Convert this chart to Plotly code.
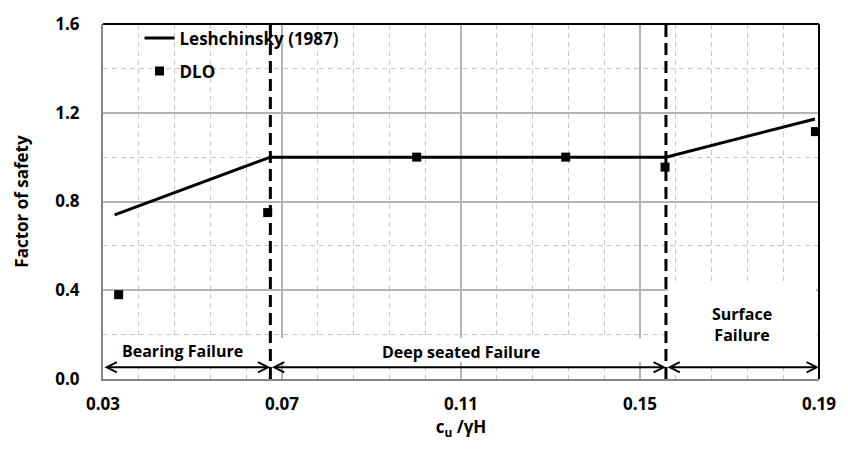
import plotly.graph_objects as go

# ---- data ----
les_x = [0.0326, 0.0674, 0.1558, 0.1891]
les_y = [0.74, 1.0, 1.0, 1.172]
dlo_x = [0.0335, 0.0668, 0.1001, 0.1334, 0.1556, 0.1892]
dlo_y = [0.38, 0.75, 1.0, 1.0, 0.955, 1.115]
boundaries = [0.0674, 0.1558]
x_ticks = [0.03, 0.07, 0.11, 0.15, 0.19]
y_ticks = [0.0, 0.4, 0.8, 1.2, 1.6]
region_names = ["Bearing Failure", "Deep seated Failure", "Surface<br>Failure"]
region_text_x = [0.0478, 0.1099, 0.1729]
region_text_y = [0.128, 0.123, 0.245]
arrow_y = 0.053
x_min, x_max = 0.03, 0.19
y_min, y_max = 0.0, 1.6

FONT = "Open Sans, sans-serif"
W = "bold"
FS = 17

fig = go.Figure()
fig.add_trace(go.Scatter(x=les_x, y=les_y, mode="lines", name="Leshchinsky (1987)",
                         line=dict(color="black", width=3), legendgroup="a"))
fig.add_trace(go.Scatter(x=dlo_x, y=dlo_y, mode="markers", name="DLO",
                         marker=dict(symbol="square", size=9, color="black"), legendgroup="b"))

# region edges for arrows
edges = [x_min] + boundaries + [x_max]

shapes = []
# white boxes behind region labels
box_tops = [0.19, 0.185, 0.435]
for i in range(3):
    shapes.append(dict(type="rect", xref="x", yref="y", layer="between",
                       x0=edges[i] + 0.0004, x1=edges[i + 1] - 0.0006,
                       y0=0.075, y1=box_tops[i],
                       fillcolor="white", line=dict(width=0)))
# dashed boundaries
for b in boundaries:
    shapes.append(dict(type="line", xref="x", yref="y", x0=b, x1=b, y0=y_min, y1=y_max + 0.01,
                       line=dict(color="black", width=3, dash="12px,6px"), layer="above"))
# top and right black borders
shapes.append(dict(type="line", xref="paper", yref="paper", x0=0, x1=1, y0=1, y1=1,
                   line=dict(color="black", width=2)))
shapes.append(dict(type="line", xref="paper", yref="paper", x0=1, x1=1, y0=0, y1=1,
                   line=dict(color="black", width=2)))

annotations = []
for i in range(3):
    annotations.append(dict(x=edges[i + 1], y=arrow_y, ax=edges[i], ay=arrow_y,
                            xref="x", yref="y", axref="x", ayref="y", text="",
                            showarrow=True, arrowhead=5, arrowside="end+start",
                            arrowsize=1.0, arrowwidth=2, arrowcolor="black"))
for name, tx, ty in zip(region_names, region_text_x, region_text_y):
    annotations.append(dict(x=tx, y=ty, xref="x", yref="y", text=name,
                            showarrow=False,
                            font=dict(family=FONT, size=16, color="black", weight=W)))

fig.update_layout(
    width=848, height=450,
    margin=dict(l=103, r=24, t=16, b=71),
    plot_bgcolor="white", paper_bgcolor="white",
    font=dict(family=FONT, size=FS, color="black"),
    shapes=shapes, annotations=annotations,
    legend=dict(x=0.051, y=1.01, xanchor="left", yanchor="top",
                bgcolor="rgba(0,0,0,0)", font=dict(family=FONT, size=FS, weight=W),
                tracegroupgap=8, traceorder="grouped"),
)
fig.update_xaxes(range=[x_min, x_max], tickvals=x_ticks, tickformat=".2f",
                 tickfont=dict(family=FONT, size=FS, weight=W),
                 showline=True, linecolor="#858585", linewidth=2,
                 showgrid=True, gridcolor="#b4b4b4", gridwidth=1.5,
                 minor=dict(dtick=0.008, tick0=0.03, showgrid=True, gridcolor="#c8c8c8",
                            griddash="5px,4px", gridwidth=1),
                 ticks="", ticklabelstandoff=9, zeroline=False,
                 title=dict(text="c<sub>u</sub> /γH", font=dict(family=FONT, size=FS, weight=W),
                            standoff=0))
fig.update_yaxes(range=[y_min, y_max], tickvals=y_ticks, tickformat=".1f",
                 tickfont=dict(family=FONT, size=FS, weight=W),
                 showline=True, linecolor="#858585", linewidth=2,
                 showgrid=True, gridcolor="#b4b4b4", gridwidth=1.5,
                 minor=dict(dtick=0.2, tick0=0, showgrid=True, gridcolor="#c8c8c8",
                            griddash="5px,4px", gridwidth=1),
                 ticks="", ticklabelstandoff=18, zeroline=False,
                 title=dict(text="Factor of safety", font=dict(family=FONT, size=FS, weight=W),
                            standoff=22))

fig.write_html("out.html")
